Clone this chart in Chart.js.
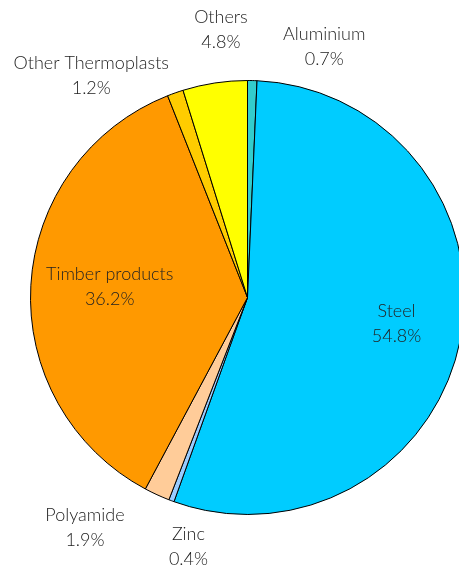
<!DOCTYPE html>
<html>
<head>
<meta charset="utf-8">
<script src="https://cdn.jsdelivr.net/npm/chart.js@4"></script>
<style>
  html, body { margin: 0; padding: 0; background: #fff; overflow: hidden; width: 459px; height: 571px; }
  #wrap { position: absolute; left: 0; top: 0; width: 495px; height: 571px; }
</style>
</head>
<body>
<div id="wrap"><canvas id="pieChart"></canvas></div>
<script>
// slices clockwise from 12 o'clock
const materials = ["Aluminium", "Steel", "Zinc", "Polyamide", "Timber products", "Other Thermoplasts", "Others"];
const shares = [0.7, 54.8, 0.4, 1.9, 36.2, 1.2, 4.8];
const sliceColors = ["#33CCCC", "#00CCFF", "#99CCFF", "#FFCC99", "#FF9900", "#FFCC00", "#FFFF00"];

// label placement: radius factor along the slice mid angle, then pixel nudge
const labelRadius = [1, 0.7, 1, 1, 0.59, 1, 1];
const labelNudge = [[72, -34], [0, -4], [17, 45], [-72, 32], [-10, -4], [-84, -18], [6, -54]];

const sliceLabels = {
  id: "sliceLabels",
  afterDatasetsDraw(chart) {
    const ctx = chart.ctx;
    const arcs = chart.getDatasetMeta(0).data;
    ctx.save();
    ctx.font = "300 18px Lato, 'Open Sans', sans-serif";
    ctx.fillStyle = "#222";
    ctx.textAlign = "center";
    ctx.textBaseline = "middle";
    arcs.forEach(function (arc, i) {
      const mid = (arc.startAngle + arc.endAngle) / 2;
      const r = arc.outerRadius * labelRadius[i];
      const x = arc.x + Math.cos(mid) * r + labelNudge[i][0];
      const y = arc.y + Math.sin(mid) * r + labelNudge[i][1];
      ctx.fillText(materials[i], x, y - 12);
      ctx.fillText(shares[i].toFixed(1) + "%", x, y + 13);
    });
    ctx.restore();
  }
};

new Chart("pieChart", {
  type: "pie",
  data: {
    labels: materials,
    datasets: [{
      data: shares,
      backgroundColor: sliceColors,
      borderColor: "#000",
      borderWidth: 1
    }]
  },
  options: {
    responsive: true,
    maintainAspectRatio: false,
    animation: false,
    layout: { padding: { top: 80, bottom: 56, left: 30, right: 30 } },
    plugins: {
      legend: { display: false },
      tooltip: { enabled: false }
    }
  },
  plugins: [sliceLabels]
});
</script>
</body>
</html>
